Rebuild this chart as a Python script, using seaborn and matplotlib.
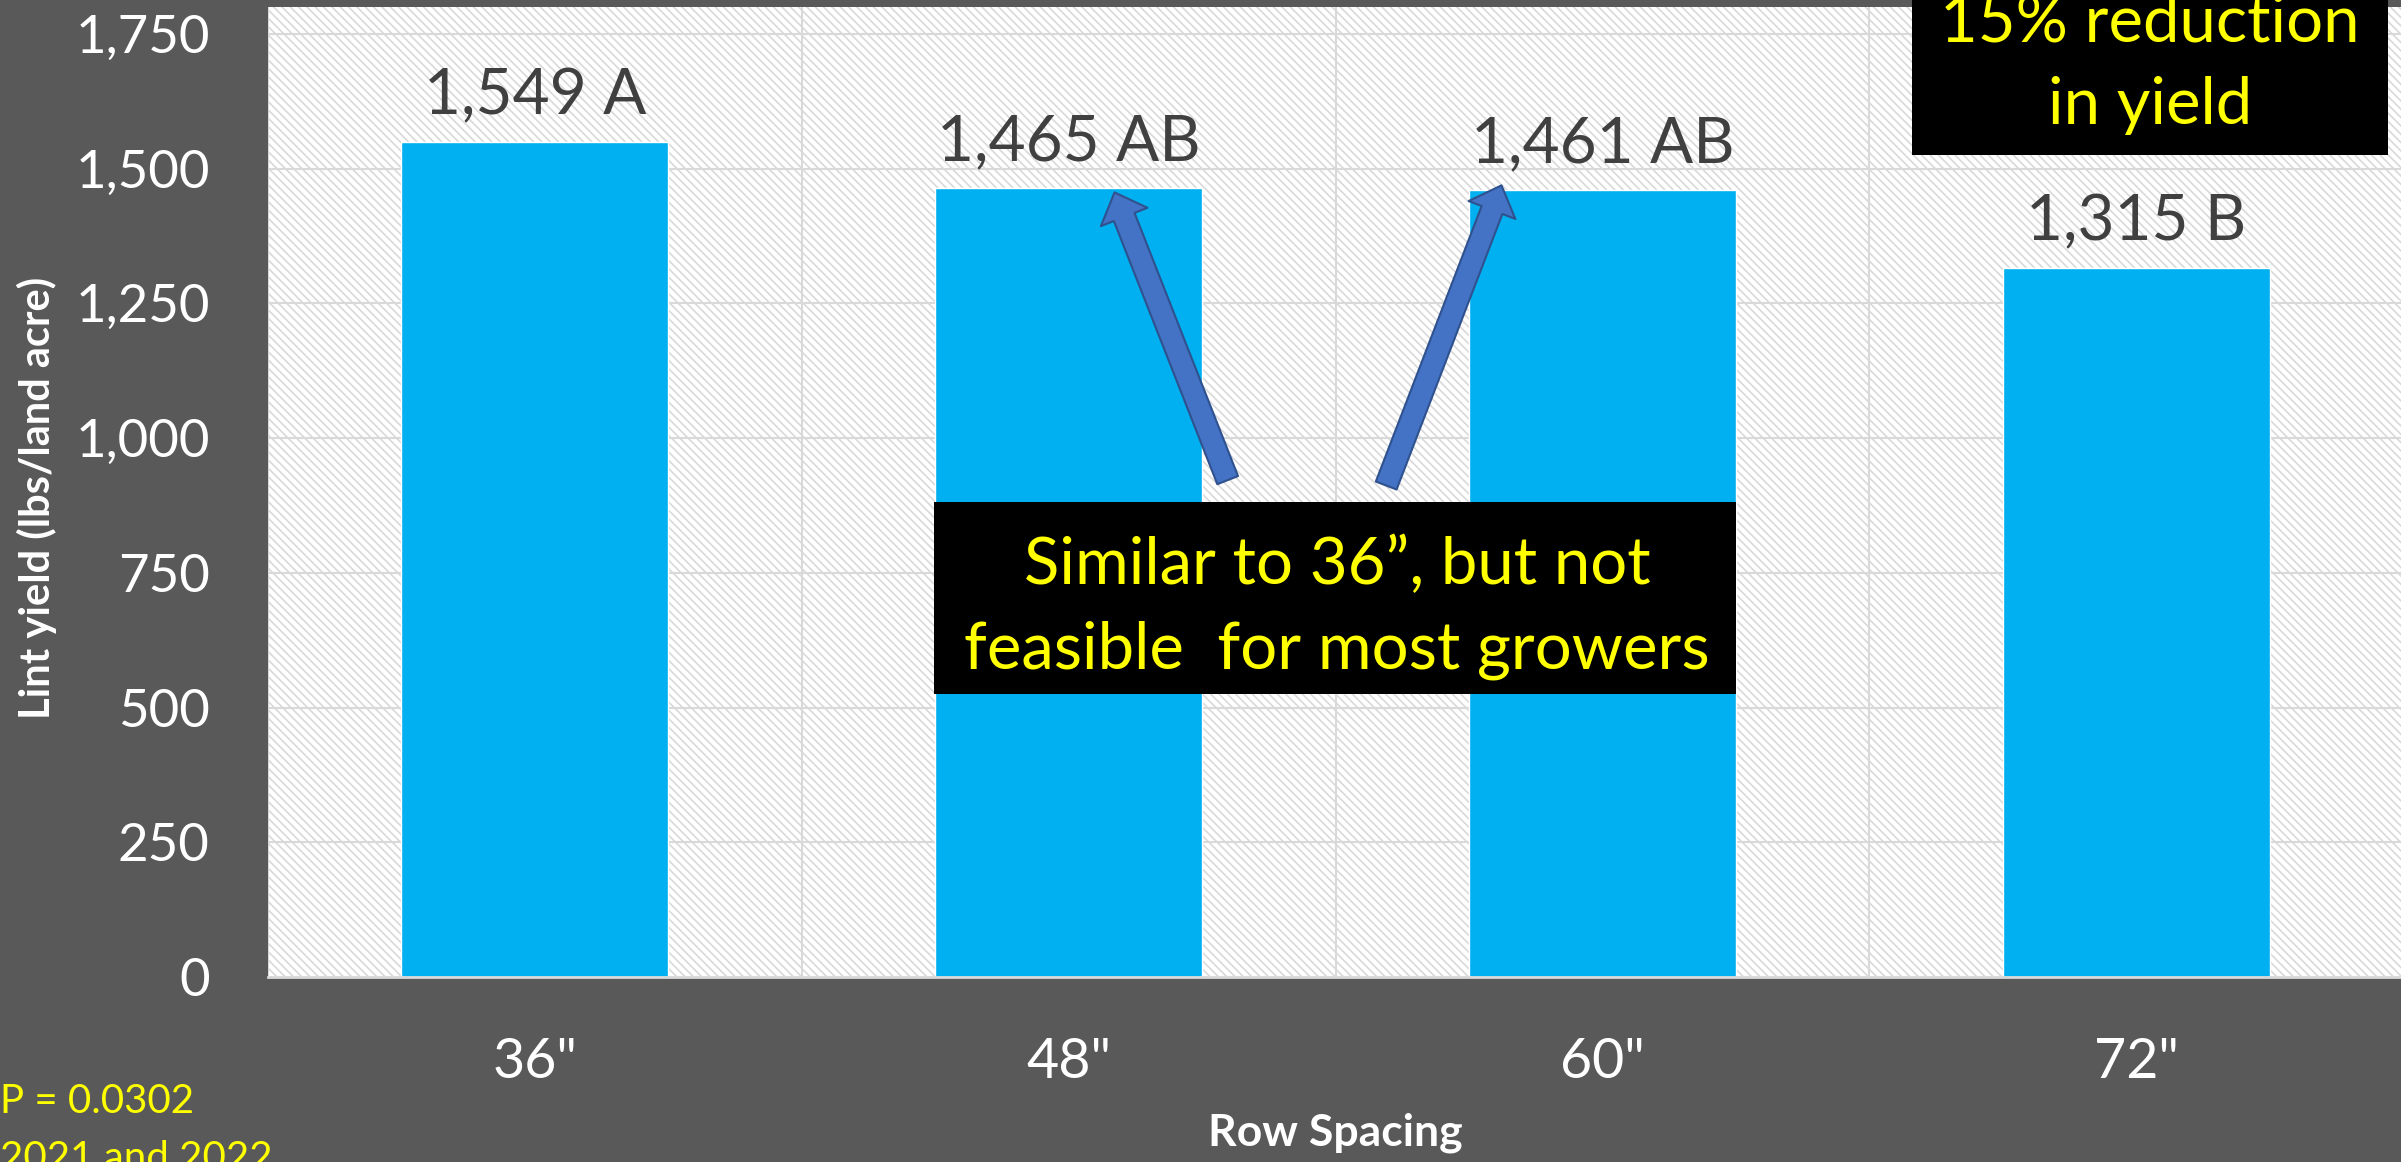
import matplotlib
matplotlib.use('Agg')
import matplotlib.pyplot as plt
import seaborn as sns
import pandas as pd
from matplotlib.patches import Rectangle, FancyArrowPatch

# --- data ---
spacing = ['36"', '48"', '60"', '72"']
lint_yield = [1549, 1465, 1461, 1315]
letters = ['A', 'AB', 'AB', 'B']
y_ticks = [0, 250, 500, 750, 1000, 1250, 1500, 1750]

# --- style ---
W, H = 2401, 1162
sns.set_theme(style='white')
plt.rcParams['font.family'] = ['Lato', 'DejaVu Sans']
plt.rcParams['hatch.linewidth'] = 1.2

BG = '#595959'
GRID = '#d9d9d9'
BAR = '#00b0f0'
YEL = '#ffff00'


def fx(px):
    return px / W


def fy(py):
    return 1 - py / H


fig = plt.figure(figsize=(W / 100, H / 100), dpi=100, facecolor=BG)
ax = fig.add_axes([fx(268), fy(977), fx(2403) - fx(268), fy(7) - fy(977)])
ax.set_facecolor('white')
# pattern fill of the plot area (wide downward diagonal)
ax.add_patch(Rectangle((0, 0), 1, 1, transform=ax.transAxes, facecolor='white',
                       edgecolor=GRID, lw=0, hatch='\\\\\\\\', zorder=0))

df = pd.DataFrame({'spacing': spacing, 'lint': lint_yield})
sns.barplot(data=df, x='spacing', y='lint', color=BAR, saturation=1, width=0.5,
            errorbar=None, ax=ax, zorder=2)

labels = [f'{v:,} {l}' for v, l in zip(lint_yield, letters)]
ax.bar_label(ax.containers[0], labels=labels, padding=12, fontsize=46, color='#404040')

# --- axes ---
ax.set_xlim(-0.5, 3.5)
ax.set_ylim(0, 1800)
ax.set_yticks(y_ticks)
ax.set_yticklabels([f'{t:,}' for t in y_ticks])
ax.set_xticks([-0.5, 0.5, 1.5, 2.5, 3.5], minor=True)
ax.grid(axis='y', which='major', color=GRID, lw=1.5)
ax.grid(axis='x', which='minor', color=GRID, lw=1.5)
ax.set_axisbelow(True)
ax.tick_params(axis='both', which='both', length=0, colors='white')
ax.tick_params(axis='y', labelsize=38, pad=42)
ax.tick_params(axis='x', labelsize=40, pad=43)
for s in ['top', 'right', 'left']:
    ax.spines[s].set_visible(False)
ax.spines['bottom'].set_color(GRID)
ax.spines['bottom'].set_linewidth(2)

ax.set_ylabel('Lint yield (lbs/land acre)', fontsize=30, fontweight='bold', color='white', va='center')
ax.yaxis.set_label_coords(-0.1082, 0.494)
ax.set_xlabel('Row Spacing', fontsize=32, fontweight='bold', color='white', va='center')
ax.xaxis.set_label_coords(0.5, -0.161)

# --- arrows pointing at the 48" and 60" bars ---
arrow_kw = dict(arrowstyle='simple,head_length=19,head_width=36,tail_width=16',
                mutation_scale=1, fc='#4472c4', ec='#2f528f', lw=1.5,
                shrinkA=0, shrinkB=0, zorder=4)
ax.add_patch(FancyArrowPatch((1.298, 922), (1.086, 1456), **arrow_kw))
ax.add_patch(FancyArrowPatch((1.595, 912), (1.811, 1469), **arrow_kw))

# --- callout boxes ---
fig.add_artist(Rectangle((fx(934), fy(694)), fx(1736) - fx(934), fy(502) - fy(694),
                         transform=fig.transFigure, fc='black', ec='none', zorder=5))
fig.text(fx(1337), fy(584), 'Similar to 36\u201d, but not', ha='center', va='baseline',
         color=YEL, fontsize=47, zorder=6)
fig.text(fx(1337), fy(668), 'feasible  for most growers', ha='center', va='baseline',
         color=YEL, fontsize=47, zorder=6)

fig.add_artist(Rectangle((fx(1912), fy(155)), fx(2388) - fx(1912), fy(-10) - fy(155),
                         transform=fig.transFigure, fc='black', ec='none', zorder=5))
fig.text(fx(2150), fy(41), '15% reduction', ha='center', va='baseline',
         color=YEL, fontsize=47, zorder=6)
fig.text(fx(2150), fy(124), 'in yield', ha='center', va='baseline',
         color=YEL, fontsize=47, zorder=6)

# --- notes ---
fig.text(0.0, fy(1113), 'P = 0.0302', ha='left', va='baseline', color=YEL, fontsize=29)
fig.text(0.0, fy(1170), '2021 and 2022', ha='left', va='baseline', color=YEL, fontsize=29)

fig.savefig('out.png', dpi=100, facecolor=BG)
